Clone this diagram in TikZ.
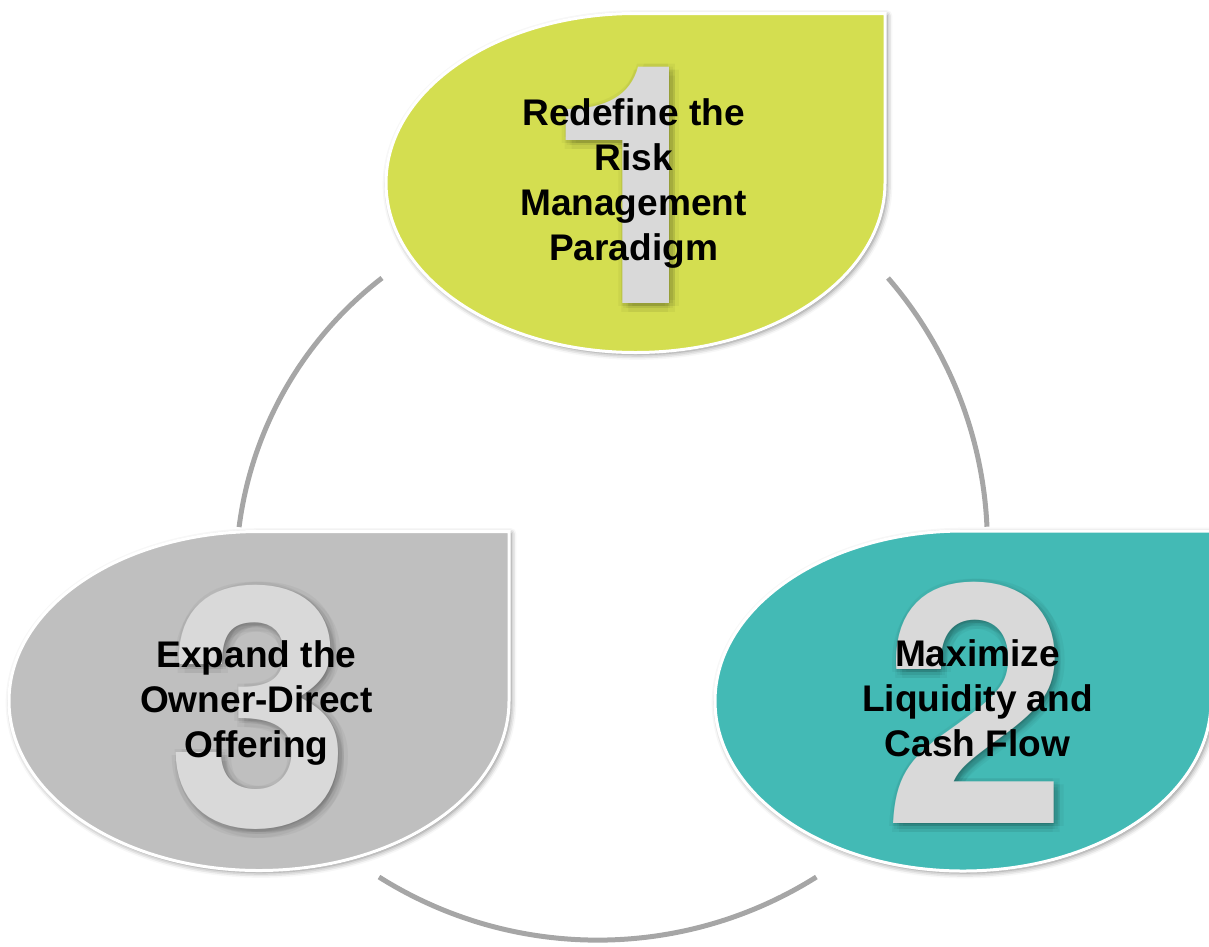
\documentclass[tikz,border=0pt]{standalone}
\usepackage{fontspec}
\setmainfont{Liberation Sans}
\newfontfamily\numeralfont{TeX Gyre Heros}
\usetikzlibrary{shadows.blur}

\definecolor{leafgreen}{HTML}{D4DE50}
\definecolor{leafteal}{HTML}{43BAB5}
\definecolor{leafgray}{HTML}{BFBFBF}
\definecolor{ringgray}{HTML}{A6A6A6}
\definecolor{digitgray}{HTML}{D9D9D9}

% leaf outline: ellipse with a square upper-right corner
% #1 = centre x, #2 = centre y (downwards), #3 = x radius, #4 = y radius
\newcommand\leafoutline[4]{%
  (#1,-#2+#4) -- (#1+#3,-#2+#4) -- (#1+#3,-#2)
  arc[start angle=0,end angle=-180,x radius=#3,y radius=#4]
  arc[start angle=180,end angle=90,x radius=#3,y radius=#4] -- cycle}

\begin{document}
\begin{tikzpicture}[x=0.75pt,y=0.75pt,
  ring/.style={draw=ringgray,line width=3.75pt},
  leaf/.style={draw=white,line width=2.25pt,line join=miter,
    blur shadow={shadow xshift=1.5pt,shadow yshift=-1.5pt,
      shadow blur radius=4pt,shadow opacity=50}},
  digit/.style={inner sep=0pt,text=digitgray,
    font=\numeralfont\fontsize{250}{250}\selectfont\bfseries},
  digitshade/.style={inner sep=0pt,text=black,opacity=0.04,
    font=\numeralfont\fontsize{250}{250}\selectfont\bfseries},
  caption/.style={align=center,inner sep=0pt,text=black,
    font=\fontsize{27.8}{33.75}\selectfont\bfseries}]
\useasboundingbox (0,0) rectangle (1209,-946);

% ring segments between the leaves
\coordinate (ringL) at (382,-278);
\coordinate (ringR) at (888,-278);
\coordinate (ringB) at (379,-877);
\draw[ring] (ringL) arc[start angle=127.6,end angle=172.7,radius=374.4];
\draw[ring] (ringR) arc[start angle=40.8,end angle=2.6,radius=409];
\draw[ring] (ringB) arc[start angle=-122.2,end angle=-57.8,radius=410.4];

% leaves
\path[leaf,fill=leafgreen] \leafoutline{635.5}{183}{249.5}{169.5};
\path[leaf,fill=leafteal]  \leafoutline{963}{701}{248}{170};
\path[leaf,fill=leafgray]  \leafoutline{259}{701}{250}{169.5};

% large step numbers with a soft dark halo
\foreach \ang in {0,60,...,300}{
  \foreach \rad in {3,7}{
    \node[digitshade] (h1-\ang-\rad) at ([shift={(\ang:\rad)}]639,-188) {1};
    \node[digitshade] (h2-\ang-\rad) at ([shift={(\ang:\rad)}]979,-706) {2};
    \node[digitshade] (h3-\ang-\rad) at ([shift={(\ang:\rad)}]262,-710) {3};
  }}
\node[digit] (n1) at (636,-185) {1};
\node[digit] (n2) at (976,-703) {2};
\node[digit] (n3) at (259,-707) {3};

% step captions
\node[caption] (t1) at (633.5,-183.5) {Redefine the\\Risk\\Management\\Paradigm};
\node[caption] (t2) at (977.5,-698.5) {Maximize\\Liquidity and\\Cash Flow};
\node[caption] (t3) at (256.5,-702.5) {Expand the\\Owner-Direct\\Offering};
\end{tikzpicture}
\end{document}
